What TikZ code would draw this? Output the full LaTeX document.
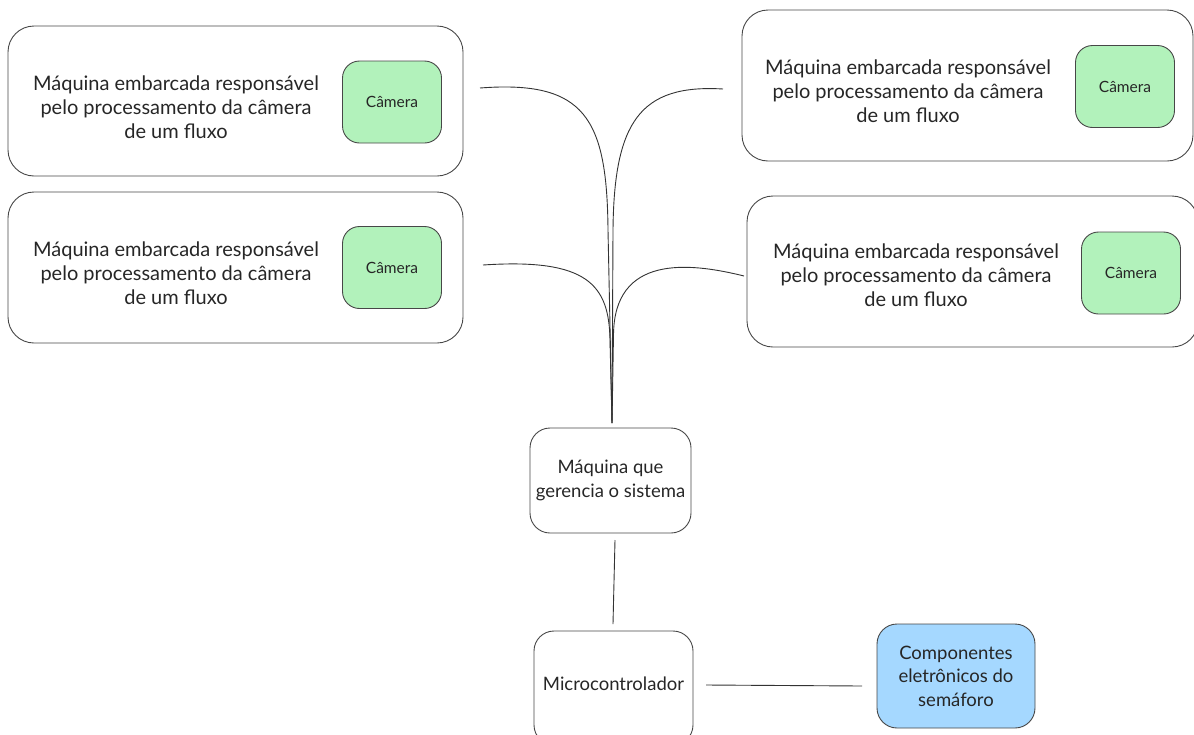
\documentclass[tikz,border=0pt]{standalone}
\usepackage{fontspec}
\setmainfont{Lato}
\begin{document}
\begin{tikzpicture}[x=1pt,y=-1pt,
  ink/.style={draw=black!72, line width=0.9pt},
  bigbox/.style={ink, rounded corners=26pt, inner sep=0pt},
  cambox/.style={ink, fill=camgreen, rounded corners=17pt, inner sep=0pt,
    minimum width=99pt, minimum height=82pt, font=\fontsize{15.5}{18}\selectfont, text=black!85},
  txt/.style={align=center, font=\fontsize{20}{24}\selectfont, text=black!85, inner sep=0pt},
  smallbox/.style={ink, rounded corners=20pt, inner sep=0pt, align=center,
    font=\fontsize{18.5}{23.5}\selectfont, text=black!85},
  wire/.style={draw=black!80, line width=0.9pt},
]
\definecolor{camgreen}{HTML}{B2F2BB}
\definecolor{partblue}{HTML}{A5D8FF}
\useasboundingbox (0,0) rectangle (1194,734);

% four embedded machines, each with its camera
\node[bigbox, minimum width=455pt, minimum height=150pt] (tl) at (235.5,101) {};
\node[txt] (tltxt) at (176,107) {Máquina embarcada responsável\\pelo processamento da câmera\\de um fluxo};
\node[cambox] (tlcam) at (392,102) {Câmera};

\node[bigbox, minimum width=455pt, minimum height=151pt] (bl) at (235.5,267.5) {};
\node[txt] (bltxt) at (176,273) {Máquina embarcada responsável\\pelo processamento da câmera\\de um fluxo};
\node[cambox] (blcam) at (392,267.5) {Câmera};

\node[bigbox, minimum width=451pt, minimum height=151pt] (tr) at (967.5,85.5) {};
\node[txt] (trtxt) at (908,91) {Máquina embarcada responsável\\pelo processamento da câmera\\de um fluxo};
\node[cambox] (trcam) at (1125,86.5) {Câmera};

\node[bigbox, minimum width=451pt, minimum height=151pt] (br) at (972.5,271.5) {};
\node[txt] (brtxt) at (916,275) {Máquina embarcada responsável\\pelo processamento da câmera\\de um fluxo};
\node[cambox] (brcam) at (1131,273) {Câmera};

% central manager, microcontroller and traffic-light parts
\node[smallbox, minimum width=161pt, minimum height=105pt] (mgr) at (610.5,480.5) {Máquina que\\gerencia o sistema};
\node[smallbox, minimum width=159pt, minimum height=114pt] (mcu) at (613.5,688) {};
\node[txt, font=\fontsize{18.5}{23.5}\selectfont] (mcutxt) at (613.5,684) {Microcontrolador};
\node[smallbox, fill=partblue, minimum width=158pt, minimum height=104pt] (parts) at (956,676) {Componentes\\eletrônicos do\\semáforo};

% loose ends of the connectors
\coordinate (hub) at (612,423);
\coordinate (ctl) at (480,88);
\coordinate (ctr) at (723,89);
\coordinate (cbl) at (483,265);
\coordinate (cbr) at (744,276);
\coordinate (m1) at (615,540);
\coordinate (m2) at (613,624);
\coordinate (h1) at (706,685);
\coordinate (h2) at (862,686);

% curved links merging into one trunk above the manager
\draw[wire] (ctl) .. controls (585,80) and (607,118) .. (608,230) -- (hub);
\draw[wire] (ctr) .. controls (640,84) and (614,122) .. (613,230) -- (hub);
\draw[wire] (cbl) .. controls (588,258) and (609,285) .. (610,340) -- (hub);
\draw[wire] (cbr) .. controls (688,262) and (614,255) .. (613.5,335) -- (hub);

\draw[wire] (m1) -- (m2);
\draw[wire] (h1) -- (h2);
\end{tikzpicture}
\end{document}
